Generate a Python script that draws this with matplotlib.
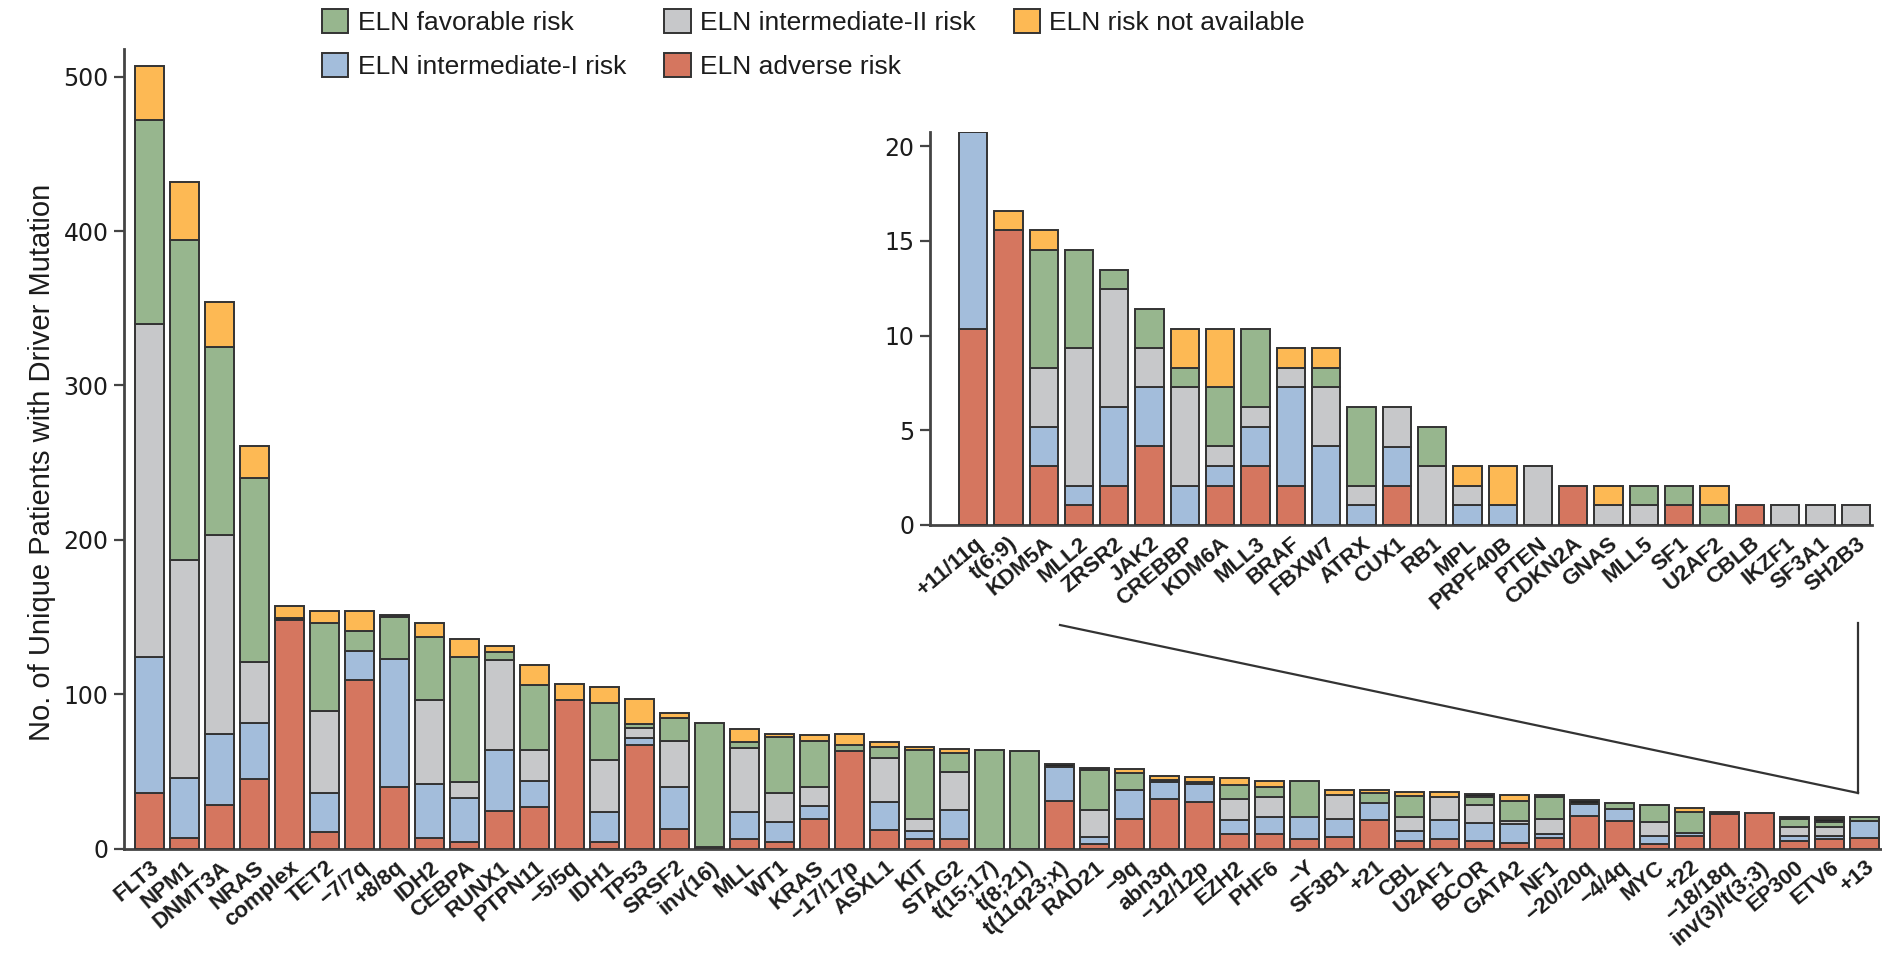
import matplotlib
matplotlib.use("Agg")
import matplotlib.pyplot as plt
from matplotlib.patches import Patch
from matplotlib.lines import Line2D
import numpy as np

# ---------------------------------------------------------------- data
drivers = ["FLT3", "NPM1", "DNMT3A", "NRAS", "complex", "TET2", "\u22127/7q", "+8/8q",
           "IDH2", "CEBPA", "RUNX1", "PTPN11", "\u22125/5q", "IDH1", "TP53", "SRSF2",
           "inv(16)", "MLL", "WT1", "KRAS", "\u221217/17p", "ASXL1", "KIT", "STAG2",
           "t(15;17)", "t(8;21)", "t(11q23;x)", "RAD21", "\u22129q", "abn3q", "\u221212/12p",
           "EZH2", "PHF6", "\u2212Y", "SF3B1", "+21", "CBL", "U2AF1", "BCOR", "GATA2", "NF1",
           "\u221220/20q", "\u22124/4q", "MYC", "+22", "\u221218/18q", "inv(3)/t(3;3)",
           "EP300", "ETV6", "+13"]

adverse = [36, 7, 28, 45, 148, 11, 109, 40, 6.5, 4, 24, 27, 96, 4.3, 67.2, 12.7,
           0.8, 6.3, 3.9, 19.2, 63, 11.9, 6.3, 6.3, 0, 0, 31, 2.9, 19.1, 32.3, 30.2,
           9.2, 9.2, 6.3, 7.2, 18.2, 5, 6.2, 5, 3.8, 6.9, 21.3, 18, 2.7, 8.3, 22.1, 22.8,
           5.1, 5.9, 7]
intermediate_1 = [88, 39, 46, 36, 0, 25, 19, 83, 35, 29, 40, 16.5, 0, 19.5, 4.6, 27.4,
                  0, 17.4, 13.1, 8.6, 0, 18.3, 5.1, 18.5, 0, 0, 21.6, 4.8, 18.8, 10.8, 11.8,
                  9, 11.2, 14, 12.1, 11.1, 6.5, 12.3, 11.3, 12.1, 2.8, 7.4, 7.6, 5.4, 2, 0, 0,
                  3.2, 2.4, 11]
intermediate_2 = [216, 141, 129, 40, 0, 53, 0, 0, 54.5, 10, 58, 20.5, 0, 33.5, 6.2, 29.3,
                  0, 41.4, 18.8, 12.1, 0, 28.4, 7.8, 25, 0, 0, 0, 17.3, 0, 0, 0,
                  14.1, 13.2, 0, 15.3, 0, 8.7, 15.1, 11.9, 1.9, 9.5, 0, 0, 8.9, 0, 0, 0,
                  5.4, 5.4, 0]
favorable = [132, 207, 122, 119, 0, 57, 13, 27, 41, 81, 5, 42, 0, 37, 2.8, 15.3,
             80.5, 4.1, 36.2, 29.5, 4, 7.4, 44.6, 12.3, 64, 63, 0, 25.9, 10.8, 0, 0,
             8.6, 6.4, 23.2, 0, 6.4, 13.6, 0, 5.4, 12.7, 14.2, 0, 3.7, 11.2, 13.4, 0, 0,
             5.2, 3.7, 2.2]
other = [0, 0, 0, 0, 1.5, 0, 0, 1, 0, 0, 0, 0, 0, 0, 0, 0,
         0, 0, 0, 0, 0, 0, 0, 0, 0, 0, 1.9, 1.5, 0, 1.5, 1.3,
         0, 0, 0, 0, 0, 0, 0, 1.5, 0, 1.5, 2.6, 0, 0, 0, 1.8, 0,
         1.5, 1.5, 0]
not_available = [35, 38, 29, 21, 7.5, 8, 13, 0, 9, 12, 4.5, 13, 10.5, 10.5, 16, 3.3,
                 0, 8, 2, 4.3, 7, 3.2, 2, 2.6, 0, 0, 0, 0, 2.6, 2.4, 3.2,
                 4.5, 3.5, 0, 3.3, 2.2, 3, 3.2, 0, 3.9, 0, 0, 0, 0, 2.3, 0, 0,
                 0, 1.7, 0]

rare_drivers = ["+11/11q", "t(6;9)", "KDM5A", "MLL2", "ZRSR2", "JAK2", "CREBBP", "KDM6A",
                "MLL3", "BRAF", "FBXW7", "ATRX", "CUX1", "RB1", "MPL", "PRPF40B", "PTEN",
                "CDKN2A", "GNAS", "MLL5", "SF1", "U2AF2", "CBLB", "IKZF1", "SF3A1", "SH2B3"]
rare_adverse = [10.37, 15.56, 3.11, 1.04, 2.07, 4.15, 0, 2.07, 3.11, 2.07, 0, 0, 2.07,
                0, 0, 0, 0, 2.07, 0, 0, 1.04, 0, 1.04, 0, 0, 0]
rare_intermediate_1 = [10.37, 0, 2.07, 1.04, 4.15, 3.11, 2.07, 1.04, 2.07, 5.19, 4.15,
                       1.04, 2.07, 0, 1.04, 1.04, 0, 0, 0, 0, 0, 0, 0, 0, 0, 0]
rare_intermediate_2 = [0, 0, 3.11, 7.26, 6.22, 2.07, 5.19, 1.04, 1.04, 1.04, 3.11, 1.04,
                       2.07, 3.11, 1.04, 0, 3.11, 0, 1.04, 1.04, 0, 0, 0, 1.04, 1.04, 1.04]
rare_favorable = [0, 0, 6.22, 5.19, 1.04, 2.07, 1.04, 3.11, 4.15, 0, 1.04, 4.15, 0, 2.07,
                  0, 0, 0, 0, 0, 1.04, 1.04, 1.04, 0, 0, 0, 0]
rare_not_available = [0, 1.04, 1.04, 0, 0, 0, 2.07, 3.11, 0, 1.04, 1.04, 0, 0, 0, 1.04,
                      2.07, 0, 0, 1.04, 0, 0, 1.04, 0, 0, 0, 0]

main_yticks = [0, 100, 200, 300, 400, 500]
rare_yticks = [0, 5, 10, 15, 20]

# ---------------------------------------------------------------- style
RED = "#D5765F"
BLUE = "#A3BDDB"
GRAY = "#C7C8CA"
GREEN = "#97B68E"
ORANGE = "#FDB954"
DARK = "#262626"
EDGE = "#333333"
SPINE = "#444444"
TEXT = "#1c1c1c"

SANS = ["Liberation Sans", "DejaVu Sans"]
TICK_FONT = ["DejaVu Sans"]

W, H = 1882, 960
fig = plt.figure(figsize=(W / 100, H / 100), dpi=100)


def axes_rect(left, right, top, bottom):
    return [left / W, 1 - bottom / H, (right - left) / W, (bottom - top) / H]


def stacked(ax, layers, width):
    n = len(layers[0][0])
    base = np.zeros(n)
    for values, color in layers:
        v = np.asarray(values, dtype=float)
        idx = np.nonzero(v > 0)[0]
        ax.bar(idx, v[idx], bottom=base[idx], width=width, color=color,
               edgecolor=EDGE, linewidth=1.4, zorder=3)
        base += v


def style_axes(ax, labels, yticks, fontsize_x):
    for side in ("top", "right"):
        ax.spines[side].set_visible(False)
    for side in ("left", "bottom"):
        ax.spines[side].set_color(SPINE)
        ax.spines[side].set_linewidth(2.0)
    ax.set_facecolor("none")
    ax.set_yticks(yticks)
    ax.tick_params(axis="y", length=7, width=1.6, color=SPINE, pad=4,
                   labelsize=17, labelcolor=TEXT)
    for t in ax.get_yticklabels():
        t.set_family(TICK_FONT)
    ax.set_xticks(range(len(labels)))
    ax.set_xticklabels(labels, rotation=40, ha="right", va="top",
                       rotation_mode="anchor", fontsize=fontsize_x,
                       fontweight="bold", family=SANS, color=TEXT)
    ax.tick_params(axis="x", length=0, pad=6)


# ---------------------------------------------------------------- main panel
ax = fig.add_axes(axes_rect(124, 1882, 49, 848.5))
stacked(ax, [(adverse, RED), (intermediate_1, BLUE), (intermediate_2, GRAY),
             (favorable, GREEN), (other, DARK), (not_available, ORANGE)], 0.83)
ax.set_xlim(-0.74, 49.49)
ax.set_ylim(0, 518)
style_axes(ax, drivers, main_yticks, 16)

fig.text(42 / W, 1 - 462 / H, "No. of Unique Patients with Driver Mutation",
         rotation=90, ha="center", va="center", fontsize=21, family=SANS,
         color=TEXT)

# ---------------------------------------------------------------- rare drivers panel
ins = fig.add_axes(axes_rect(930, 1872, 132, 525))
stacked(ins, [(rare_adverse, RED), (rare_intermediate_1, BLUE),
              (rare_intermediate_2, GRAY), (rare_favorable, GREEN),
              (rare_not_available, ORANGE)], 0.8)
ins.set_xlim(-1.22, 25.46)
ins.set_ylim(0, 20.75)
style_axes(ins, rare_drivers, rare_yticks, 16)

# bracket tying the rare-driver panel to the tail of the main distribution
for xs, ys in (([1060, 1858], [625, 793]), ([1858, 1858], [623, 793])):
    fig.add_artist(Line2D([x / W for x in xs], [1 - y / H for y in ys],
                          color=EDGE, linewidth=1.6, transform=fig.transFigure))

# ---------------------------------------------------------------- legend
legend_items = [("ELN favorable risk", GREEN), ("ELN intermediate-I risk", BLUE),
                ("ELN intermediate-II risk", GRAY), ("ELN adverse risk", RED),
                ("ELN risk not available", ORANGE)]
handles = [Patch(facecolor=c, edgecolor=EDGE, linewidth=1.4, label=l)
           for l, c in legend_items]
fig.legend(handles=handles, loc="upper left", bbox_to_anchor=(322 / W, 1 - 9 / H),
           ncol=3, frameon=False, prop={"family": SANS, "size": 19},
           handlelength=1.0, handleheight=1.0, handletextpad=0.35,
           columnspacing=1.45, labelspacing=0.7, labelcolor=TEXT,
           borderaxespad=0, borderpad=0)

fig.savefig("out.png", dpi=100, facecolor="white")
